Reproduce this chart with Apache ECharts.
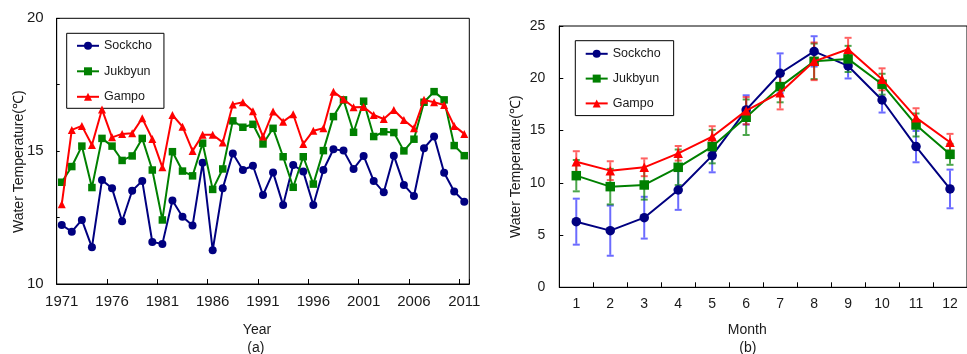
<!DOCTYPE html>
<html>
<head>
<meta charset="utf-8">
<script src="https://cdn.jsdelivr.net/npm/echarts@6/dist/echarts.min.js"></script>
<style>
html,body{margin:0;padding:0;background:#fff;}
#chart{width:967px;height:354px;}
</style>
</head>
<body>
<div id="chart"></div>
<script>
// ---- Data: panel (a) annual mean water temperature ----
var years = ['1971','1972','1973','1974','1975','1976','1977','1978','1979','1980',
  '1981','1982','1983','1984','1985','1986','1987','1988','1989','1990',
  '1991','1992','1993','1994','1995','1996','1997','1998','1999','2000',
  '2001','2002','2003','2004','2005','2006','2007','2008','2009','2010','2011'];
var sockchoYear = [12.22, 11.97, 12.41, 11.38, 13.91, 13.60, 12.36, 13.51, 13.88, 11.58,
  11.51, 13.14, 12.53, 12.20, 14.56, 11.27, 13.60, 14.91, 14.29, 14.45,
  13.35, 14.20, 12.97, 14.48, 14.23, 12.97, 14.29, 15.07, 15.02, 14.33,
  14.82, 13.88, 13.45, 14.83, 13.73, 13.31, 15.11, 15.55, 14.19, 13.48, 13.10];
var jukbyunYear = [13.83, 14.42, 15.19, 13.63, 15.48, 15.19, 14.65, 14.82, 15.48, 14.29,
  12.41, 14.98, 14.25, 14.07, 15.30, 13.56, 14.33, 16.14, 15.90, 16.01,
  15.27, 15.86, 14.79, 13.64, 14.79, 13.76, 15.02, 16.30, 16.93, 15.71,
  16.88, 15.55, 15.73, 15.70, 15.01, 15.45, 16.84, 17.24, 16.93, 15.21, 14.83];
var gampoYear = [13.00, 15.80, 15.95, 15.23, 16.57, 15.52, 15.65, 15.67, 16.24, 15.46,
  14.39, 16.36, 15.92, 15.01, 15.62, 15.62, 15.33, 16.76, 16.84, 16.50,
  15.55, 16.49, 16.11, 16.39, 15.27, 15.77, 15.86, 17.24, 16.95, 16.65,
  16.66, 16.36, 16.21, 16.55, 16.17, 15.86, 16.93, 16.84, 16.74, 15.95, 15.65];

// ---- Data: panel (b) monthly mean water temperature with error ----
var months = ['1','2','3','4','5','6','7','8','9','10','11','12'];
var sockchoMonth = [6.28, 5.42, 6.66, 9.31, 12.60, 16.97, 20.48, 22.57, 21.18, 17.92, 13.46, 9.41];
var sockchoErr   = [2.2, 2.4, 2.0, 1.9, 1.6, 1.4, 1.9, 1.45, 1.2, 1.2, 1.5, 1.85];
var jukbyunMonth = [10.68, 9.63, 9.79, 11.48, 13.46, 16.27, 19.20, 21.62, 21.85, 19.43, 15.53, 12.72];
var jukbyunErr   = [1.5, 1.7, 1.4, 1.7, 1.6, 1.7, 1.5, 1.7, 1.25, 1.0, 1.1, 1.0];
var gampoMonth   = [12.02, 11.16, 11.48, 12.82, 14.41, 16.90, 18.62, 21.62, 22.77, 19.90, 16.23, 13.88];
var gampoErr     = [1.0, 0.9, 0.85, 0.7, 1.0, 1.3, 1.6, 1.8, 1.1, 1.05, 0.9, 0.8];

var names = ['Sockcho', 'Jukbyun', 'Gampo'];
var colors = ['#000080', '#008000', '#ff0000'];
var errColors = ['rgba(0,0,255,0.58)', 'rgba(0,128,0,0.7)', 'rgba(255,0,0,0.62)'];
var symbols = ['circle', 'rect', 'triangle'];

var FONT = 'Liberation Sans, Arial, sans-serif';
var TXT = '#1a1a1a';

function errData(vals, errs) {
  return vals.map(function (v, i) { return [i, v - errs[i], v + errs[i]]; });
}
function errRender(color) {
  return function (params, api) {
    var x = api.value(0);
    var p1 = api.coord([x, api.value(2)]);
    var p2 = api.coord([x, api.value(1)]);
    var hw = 3.5;
    var st = { stroke: color, lineWidth: 2, fill: null };
    return {
      type: 'group',
      children: [
        { type: 'line', shape: { x1: p1[0], y1: p1[1] + 1, x2: p2[0], y2: p2[1] - 1 }, style: st },
        { type: 'line', shape: { x1: p1[0] - hw, y1: p1[1], x2: p1[0] + hw, y2: p1[1] }, style: st },
        { type: 'line', shape: { x1: p2[0] - hw, y1: p2[1], x2: p2[0] + hw, y2: p2[1] }, style: st }
      ]
    };
  };
}

var chart = echarts.init(document.getElementById('chart'), null, { renderer: 'canvas' });

var yearVals = [sockchoYear, jukbyunYear, gampoYear];
var monthVals = [sockchoMonth, jukbyunMonth, gampoMonth];
var monthErrs = [sockchoErr, jukbyunErr, gampoErr];

var series = [];
// error bars (panel b), below lines
for (var k = 0; k < 3; k++) {
  series.push({
    name: names[k] + ' error',
    type: 'custom',
    xAxisIndex: 1, yAxisIndex: 1,
    renderItem: errRender(errColors[k]),
    encode: { x: 0, y: [1, 2] },
    data: errData(monthVals[k], monthErrs[k]),
    z: 1,
    silent: true
  });
}
for (var k2 = 0; k2 < 3; k2++) {
  series.push({
    name: names[k2],
    type: 'line',
    xAxisIndex: 0, yAxisIndex: 0,
    data: yearVals[k2],
    symbol: symbols[k2],
    symbolSize: k2 === 1 ? 7.5 : 8,
    showSymbol: true,
    showAllSymbol: true,
    lineStyle: { color: colors[k2], width: 2 },
    itemStyle: { color: colors[k2] },
    z: 2 + k2
  });
}
for (var k3 = 0; k3 < 3; k3++) {
  series.push({
    name: names[k3],
    type: 'line',
    xAxisIndex: 1, yAxisIndex: 1,
    data: monthVals[k3],
    symbol: symbols[k3],
    symbolSize: 9.5,
    showSymbol: true,
    showAllSymbol: true,
    lineStyle: { color: colors[k3], width: 2 },
    itemStyle: { color: colors[k3] },
    z: 2 + k3
  });
}

var axisLineStyle = { show: true, lineStyle: { color: '#000', width: 1 } };

var option = {
  animation: false,
  backgroundColor: '#fff',
  textStyle: { fontFamily: FONT },
  grid: [
    { left: 56.7, top: 18.3, right: 497.7, bottom: 70, show: true, borderColor: '#000', borderWidth: 1, backgroundColor: 'transparent' },
    { left: 559.3, top: 26, right: -9.7, bottom: 66.7, show: true, borderColor: '#000', borderWidth: 1, backgroundColor: 'transparent' }
  ],
  xAxis: [
    {
      type: 'category', gridIndex: 0, data: years, boundaryGap: true,
      axisLine: axisLineStyle,
      axisTick: { show: true, inside: true, interval: 4, length: 5, lineStyle: { color: '#000' } },
      axisLabel: { interval: 4, fontSize: 15, color: TXT, margin: 10, fontFamily: FONT },
      splitLine: { show: false }
    },
    {
      type: 'category', gridIndex: 1, data: months, boundaryGap: true,
      axisLine: axisLineStyle,
      axisTick: { show: true, inside: true, interval: 0, length: 5, lineStyle: { color: '#000' } },
      axisLabel: { interval: 0, fontSize: 14, color: TXT, margin: 10, fontFamily: FONT },
      splitLine: { show: false }
    }
  ],
  yAxis: [
    {
      type: 'value', gridIndex: 0, min: 10, max: 20, interval: 2.5,
      axisLine: axisLineStyle,
      axisTick: { show: true, inside: true, length: 3, lineStyle: { color: '#000' } },
      axisLabel: {
        fontSize: 15, color: TXT, margin: 13, fontFamily: FONT,
        formatter: function (v) { return (v % 5 === 0) ? String(v) : ''; }
      },
      splitLine: { show: false }
    },
    {
      type: 'value', gridIndex: 1, min: 0, max: 25, interval: 5,
      axisLine: axisLineStyle,
      axisTick: { show: true, inside: true, length: 4, lineStyle: { color: '#000' } },
      axisLabel: { fontSize: 14, color: TXT, margin: 14, fontFamily: FONT },
      splitLine: { show: false }
    }
  ],
  legend: [
    {
      data: names, orient: 'vertical', left: 66.7, top: 33.3,
      itemWidth: 22, itemHeight: 10, itemGap: 12.5,
      padding: [6, 12, 5, 9.3],
      backgroundColor: '#fff', borderColor: '#000', borderWidth: 1, borderRadius: 0,
      selectedMode: false,
      textStyle: { fontSize: 12.5, color: TXT, fontFamily: FONT, lineHeight: 10 }
    },
    {
      data: names, orient: 'vertical', left: 575.3, top: 40.7,
      itemWidth: 22, itemHeight: 10, itemGap: 11.8,
      padding: [6.6, 13, 5.7, 9.4],
      backgroundColor: '#fff', borderColor: '#000', borderWidth: 1, borderRadius: 0,
      selectedMode: false,
      textStyle: { fontSize: 12.5, color: TXT, fontFamily: FONT, lineHeight: 10 }
    }
  ],
  graphic: [
    { type: 'text', x: 18.7, y: 161.7, rotation: Math.PI / 2,
      style: { text: 'Water Temperature(℃)', fill: TXT, font: '14px ' + FONT, align: 'center', verticalAlign: 'middle' } },
    { type: 'text', x: 516, y: 166.7, rotation: Math.PI / 2,
      style: { text: 'Water Temperature(℃)', fill: TXT, font: '14px ' + FONT, align: 'center', verticalAlign: 'middle' } },
    { type: 'text', x: 257, y: 330,
      style: { text: 'Year', fill: TXT, font: '14px ' + FONT, align: 'center', verticalAlign: 'middle' } },
    { type: 'text', x: 255.8, y: 348,
      style: { text: '(a)', fill: TXT, font: '14px ' + FONT, align: 'center', verticalAlign: 'middle' } },
    { type: 'text', x: 747.3, y: 330,
      style: { text: 'Month', fill: TXT, font: '14px ' + FONT, align: 'center', verticalAlign: 'middle' } },
    { type: 'text', x: 747.8, y: 348,
      style: { text: '(b)', fill: TXT, font: '14px ' + FONT, align: 'center', verticalAlign: 'middle' } }
  ],
  series: series
};
chart.setOption(option);
</script>
</body>
</html>
